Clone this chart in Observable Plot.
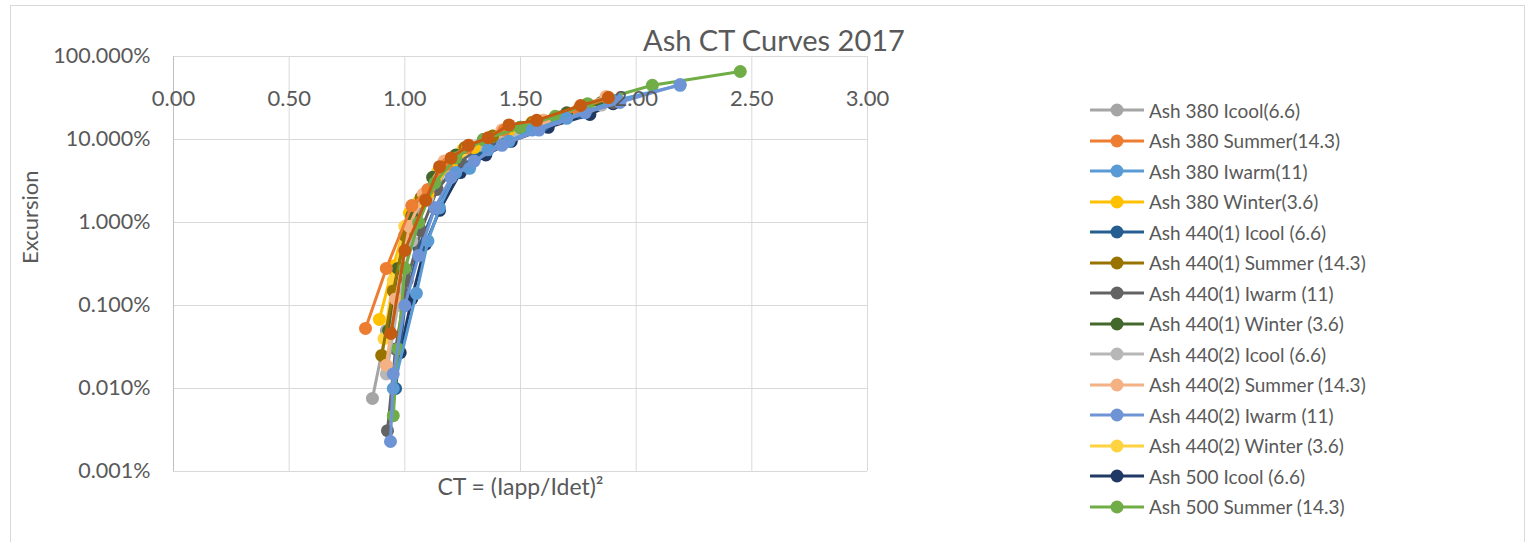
<!DOCTYPE html>
<html>
<head>
<meta charset="utf-8">
<script src="https://cdn.jsdelivr.net/npm/d3@7"></script>
<script src="https://cdn.jsdelivr.net/npm/@observablehq/plot@0.6"></script>
<style>
  html, body { margin: 0; padding: 0; background: #fff; }
  #chart { position: relative; width: 1532px; height: 542px; overflow: hidden; font-family: Lato, "Open Sans", sans-serif; color: #595959; }
  #border { position: absolute; left: 10px; top: 5px; width: 1515px; height: 600px; border: 1px solid #d9d9d9; box-sizing: border-box; }
  #plot { position: absolute; left: 0; top: 0; }
  #title { position: absolute; left: 643px; top: 22px; font-size: 29px; line-height: 36px; white-space: nowrap; }
  #legend { position: absolute; left: 1090px; top: 95px; }
  .item { display: flex; align-items: center; height: 30.5px; font-size: 19px; white-space: nowrap; }
  .item svg { margin-right: 5px; }
</style>
</head>
<body>
<div id="chart">
  <div id="border"></div>
  <div id="plot"></div>
  <div id="title">Ash CT Curves 2017</div>
  <div id="legend"></div>
</div>
<script>
// Series names (legend order)
const seriesNames = [
  "Ash 380 Icool(6.6)",
  "Ash 380 Summer(14.3)",
  "Ash 380 Iwarm(11)",
  "Ash 380 Winter(3.6)",
  "Ash 440(1) Icool (6.6)",
  "Ash 440(1) Summer (14.3)",
  "Ash 440(1) Iwarm (11)",
  "Ash 440(1) Winter (3.6)",
  "Ash 440(2) Icool (6.6)",
  "Ash 440(2) Summer (14.3)",
  "Ash 440(2) Iwarm (11)",
  "Ash 440(2) Winter (3.6)",
  "Ash 500 Icool (6.6)",
  "Ash 500 Summer (14.3)",
  "Ash 500 Iwarm (11)"
];
const seriesColors = [
  "#a5a5a5", "#ed7d31", "#5b9bd5", "#ffc000",
  "#255e91", "#997300", "#636363", "#43682b",
  "#b7b7b7", "#f4b183", "#6f94d6", "#ffd23f",
  "#203864", "#70ad47", "#c55a11"
];
// Entries shown in the legend box
const legendCount = 14;
// Order in which the series are painted (later ones on top)
const drawOrder = [12, 4, 0, 6, 8, 3, 11, 7, 5, 9, 1, 13, 2, 10, 14];

// CT values (x) per series
const ctValues = [
  [0.86, 0.92, 0.98, 1.05, 1.14, 1.24, 1.35, 1.50, 1.68, 1.86],
  [0.83, 0.92, 1.03, 1.10, 1.18, 1.27, 1.35, 1.43, 1.56, 1.75, 1.88],
  [0.95, 1.05, 1.10, 1.15, 1.22, 1.28, 1.36, 1.45, 1.55, 1.70, 1.92, 2.19],
  [0.89, 0.95, 1.02, 1.10, 1.20, 1.30, 1.45, 1.60, 1.80],
  [0.96, 1.00, 1.06, 1.13, 1.22, 1.32, 1.45, 1.60, 1.76, 1.90],
  [0.90, 0.95, 1.00, 1.07, 1.16, 1.26, 1.38, 1.55, 1.76, 1.88],
  [0.925, 0.96, 1.01, 1.07, 1.14, 1.24, 1.36, 1.52, 1.70, 1.90],
  [0.93, 0.97, 1.03, 1.12, 1.22, 1.34, 1.50, 1.70, 1.85],
  [0.92, 0.97, 1.03, 1.10, 1.20, 1.32, 1.48, 1.66, 1.85],
  [0.92, 0.96, 1.02, 1.08, 1.17, 1.28, 1.42, 1.60, 1.87],
  [0.938, 0.95, 1.00, 1.06, 1.13, 1.20, 1.30, 1.42, 1.58, 1.78, 1.93, 2.19],
  [0.91, 0.95, 1.00, 1.06, 1.14, 1.25, 1.38, 1.55, 1.78],
  [0.98, 1.03, 1.09, 1.15, 1.24, 1.35, 1.46, 1.62, 1.80, 1.90],
  [0.95, 0.97, 1.00, 1.06, 1.13, 1.22, 1.34, 1.50, 1.65, 1.79, 2.07, 2.45],
  [0.94, 1.00, 1.09, 1.15, 1.20, 1.275, 1.36, 1.45, 1.57, 1.76, 1.88]
];
// Excursion (%) per series
const excursionValues = [
  [0.0076, 0.05, 0.3, 1.2, 3.5, 6.5, 9.5, 13, 19, 28],
  [0.053, 0.28, 1.6, 2.5, 5, 8, 10, 13, 16, 23, 32],
  [0.01, 0.14, 0.6, 1.5, 4, 4.5, 7.5, 9.5, 13, 18, 30, 45],
  [0.068, 0.3, 1.3, 2.2, 5, 8, 13, 17, 25],
  [0.01, 0.1, 0.5, 1.5, 4, 7, 11, 15, 21, 29],
  [0.025, 0.15, 0.7, 2, 4.8, 8, 11, 16, 24, 31],
  [0.0031, 0.03, 0.2, 0.8, 2.5, 5.5, 9, 13, 19, 28],
  [0.05, 0.28, 1.2, 3.5, 6.5, 10, 14, 21, 28],
  [0.015, 0.1, 0.6, 2, 5, 8.5, 12.5, 18, 26],
  [0.019, 0.12, 0.9, 2.2, 5.5, 8.5, 13, 17, 33],
  [0.0023, 0.015, 0.1, 0.4, 1.5, 3.5, 5.5, 8.5, 13, 21, 28, 46],
  [0.04, 0.2, 0.9, 1.8, 4, 7.5, 11, 16, 24],
  [0.027, 0.12, 0.55, 1.4, 4, 6.5, 9.5, 14, 20, 27],
  [0.0047, 0.03, 0.28, 1, 3, 6, 10, 14, 19, 27, 45, 66],
  [0.046, 0.46, 1.85, 4.7, 6, 8.5, 10.5, 15, 17, 25.7, 32]
];

const xTicks = [0, 0.5, 1, 1.5, 2, 2.5, 3];
const yTicks = [0.001, 0.01, 0.1, 1, 10, 100];

// Long table built from the arrays above
const rows = seriesNames.flatMap((name, i) =>
  ctValues[i].map((ct, j) => ({series: name, ct, excursion: excursionValues[i][j]}))
);

const textColor = "#595959";
const font = "Lato, 'Open Sans', sans-serif";

// One line + markers per series so each series is painted over the previous one
const seriesMarks = drawOrder.flatMap(i => {
  const data = rows.filter(d => d.series === seriesNames[i]);
  return [
    Plot.line(data, {x: "ct", y: "excursion", stroke: "series", strokeWidth: 3, curve: "linear"}),
    Plot.dot(data, {x: "ct", y: "excursion", fill: "series", r: 6.5})
  ];
});

const chart = Plot.plot({
  width: 1070,
  height: 542,
  marginLeft: 173,
  marginRight: 203,
  marginTop: 56,
  marginBottom: 71,
  style: {fontFamily: font, background: "transparent"},
  x: {domain: [0, 3], axis: null},
  y: {type: "log", domain: [0.001, 100], axis: null},
  color: {domain: seriesNames, range: seriesColors},
  marks: [
    Plot.gridX(xTicks, {stroke: "#d9d9d9", strokeOpacity: 1, strokeWidth: 1}),
    Plot.gridY(yTicks, {stroke: "#d9d9d9", strokeOpacity: 1, strokeWidth: 1}),
    Plot.ruleX([0], {stroke: "#bfbfbf"}),
    ...seriesMarks,
    Plot.text(xTicks, {x: d => d, frameAnchor: "top", dy: 34, text: d => d.toFixed(2),
      fill: textColor, fontSize: 22, fontFamily: font}),
    Plot.text(yTicks, {y: d => d, frameAnchor: "left", dx: -23, textAnchor: "end",
      text: d => d.toFixed(3) + "%", fill: textColor, fontSize: 21.5, fontFamily: font}),
    Plot.text(["CT = (Iapp/Idet)²"], {frameAnchor: "bottom", dy: 23, fill: textColor,
      fontSize: 23, fontFamily: font}),
    Plot.text(["Excursion"], {frameAnchor: "left", dx: -143, rotate: -90, fill: textColor,
      fontSize: 22, fontFamily: font})
  ]
});
document.getElementById("plot").appendChild(chart);

// Legend
const legend = d3.select("#legend");
seriesNames.slice(0, legendCount).forEach((name, i) => {
  const item = legend.append("div").attr("class", "item");
  const svg = item.append("svg").attr("width", 54).attr("height", 16);
  svg.append("line").attr("x1", 0).attr("x2", 54).attr("y1", 8).attr("y2", 8)
    .attr("stroke", seriesColors[i]).attr("stroke-width", 3);
  svg.append("circle").attr("cx", 27).attr("cy", 8).attr("r", 6.5).attr("fill", seriesColors[i]);
  item.append("span").text(name);
});
</script>
</body>
</html>
